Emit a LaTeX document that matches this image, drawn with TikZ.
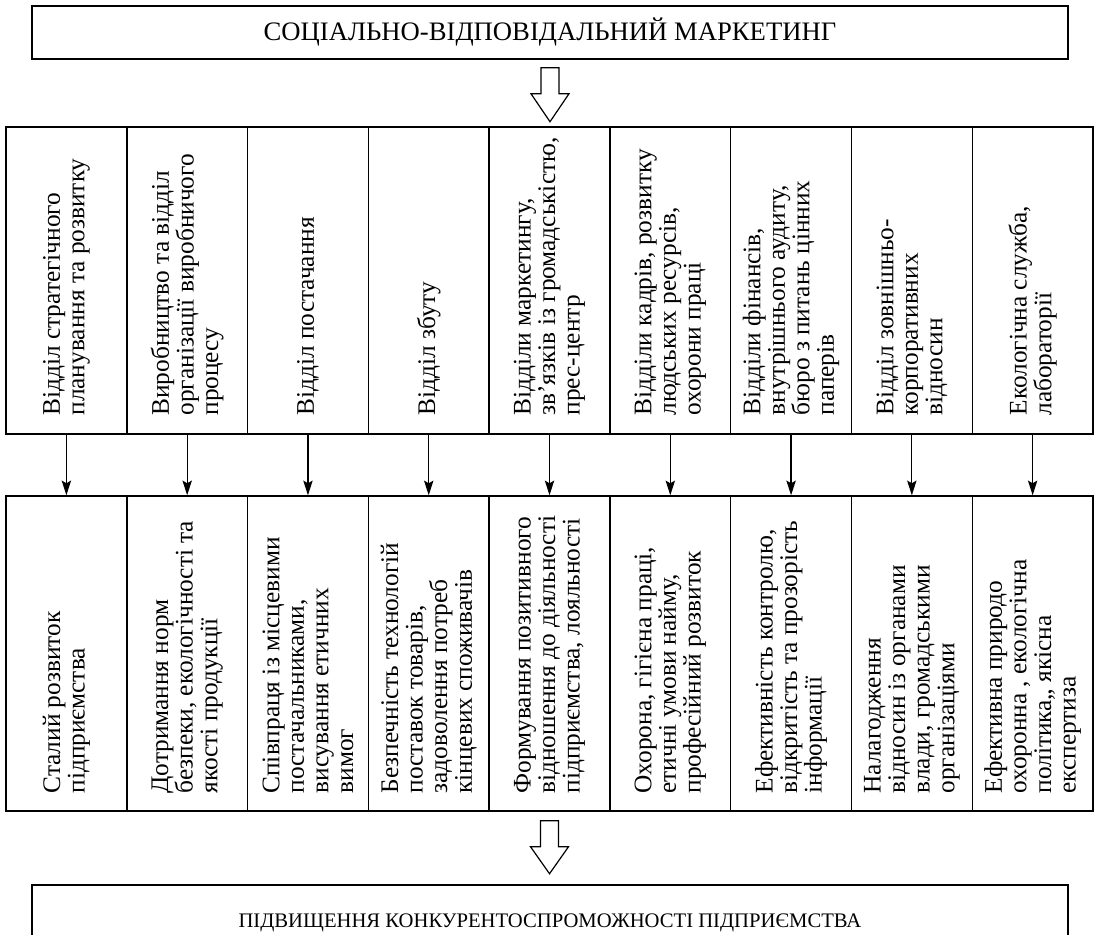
\documentclass[tikz,border=0pt]{standalone}
\usepackage{fontspec}
\setmainfont{Liberation Serif}
\usetikzlibrary{arrows.meta,calc}
\begin{document}
\begin{tikzpicture}[x=0.75pt,y=-0.75pt,
  frame/.style={draw=black,line width=1.1pt,inner sep=0pt},
  titlebox/.style={frame,minimum width=777pt,minimum height=39.75pt},
  colbox/.style={frame,minimum width=90.58pt},
  coltext/.style={rotate=90,anchor=west,align=left,inner sep=0pt,font=\fontsize{19}{18.4}\selectfont},
  link/.style={draw=black,line width=0.9pt,-{Stealth[length=11pt,width=7pt,inset=2pt]}},
  hollow/.style={draw=black,line width=0.9pt,fill=white,line join=miter}]
\useasboundingbox (0,0) rectangle (1096,935);
\clip (0,0) rectangle (1096,935);
\fill[white] (0,0) rectangle (1096,935);
\node[titlebox,font=\fontsize{20}{24}\selectfont] (top) at (550,32.5) {СОЦІАЛЬНО-ВІДПОВІДАЛЬНИЙ МАРКЕТИНГ};
\node[titlebox,minimum height=57pt,font=\fontsize{15.5}{18}\selectfont] (bot) at (550,923) {ПІДВИЩЕННЯ КОНКУРЕНТОСПРОМОЖНОСТІ ПІДПРИЄМСТВА};
\foreach \i/\ta/\tb in {
 1/{Відділ стратегічного\\планування та розвитку}/{Сталий розвиток\\підприємства},
 2/{Виробництво та відділ\\організації виробничого\\процесу}/{Дотримання норм\\безпеки, екологічності та\\якості продукції},
 3/{Відділ постачання}/{Співпраця із місцевими\\постачальниками,\\висування етичних\\вимог},
 4/{Відділ збуту}/{Безпечність технологій\\поставок товарів,\\задоволення потреб\\кінцевих споживачів},
 5/{Відділи маркетингу,\\зв’язків із громадськістю,\\прес-центр}/{Формування позитивного\\відношення до діяльності\\підприємства, лояльності},
 6/{Відділи кадрів, розвитку\\людських ресурсів,\\охорони праці}/{Охорона, гігієна праці,\\етичні умови найму,\\професійний розвиток},
 7/{Відділи фінансів,\\внутрішнього аудиту,\\бюро з питань цінних\\паперів}/{Ефективність контролю,\\відкритість та прозорість\\інформації},
 8/{Відділ зовнішньо-\\корпоративних\\відносин}/{Налагодження\\відносин із органами\\влади, громадськими\\організаціями},
 9/{Екологічна служба,\\лабораторії}/{Ефективна природо\\охоронна , екологічна\\політика,, якісна\\експертиза}}{
  \pgfmathsetmacro{\cx}{6+(\i-0.5)*120.78}
  \node[colbox,minimum height=230.25pt] (t\i) at (\cx,280.5) {};
  \node[colbox,minimum height=236.25pt] (b\i) at (\cx,653.5) {};
  \node[coltext] (tt\i) at ($(t\i.south)+(0,-19)$) {\ta};
  \node[coltext] (bt\i) at ($(b\i.south)+(0,-18)$) {\tb};
  \draw[link] (t\i.south) -- (b\i.north);
}
\draw[hollow] ($(top.south)+(-9,8)$) -- ($(top.south)+(9,8)$) -- ($(top.south)+(9,34)$) -- ($(top.south)+(19,34)$) -- ($(top.south)+(0,62)$) -- ($(top.south)+(-19,34)$) -- ($(top.south)+(-9,34)$) -- cycle;
\draw[hollow] ($(b5.south)+(-9,9)$) -- ($(b5.south)+(9,9)$) -- ($(b5.south)+(9,35)$) -- ($(b5.south)+(19,35)$) -- ($(b5.south)+(0,62)$) -- ($(b5.south)+(-19,35)$) -- ($(b5.south)+(-9,35)$) -- cycle;
\end{tikzpicture}
\end{document}
